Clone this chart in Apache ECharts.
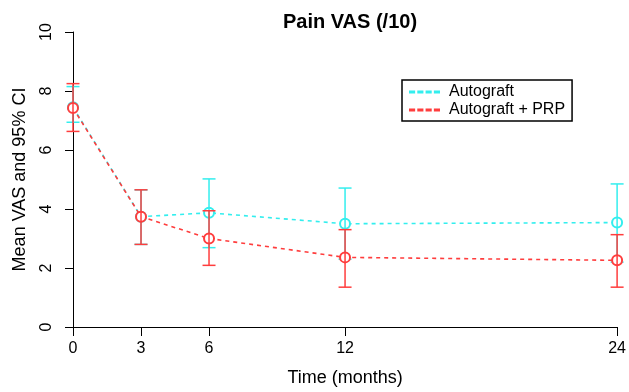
<!DOCTYPE html>
<html>
<head>
<meta charset="utf-8">
<script src="https://cdn.jsdelivr.net/npm/echarts@6/dist/echarts.min.js"></script>
<style>html,body{margin:0;padding:0;background:#fff}#c{width:629px;height:392px}</style>
</head>
<body>
<div id="c"></div>
<script>
var months = [0, 3, 6, 12, 24];
var xTicks = [0, 3, 6, 12, 24];
var yTicks = [0, 2, 4, 6, 8, 10];
var autoMean = [7.45, 3.74, 3.87, 3.5, 3.54];
var autoLow  = [6.94, 2.8, 2.69, 2.3, 2.2];
var autoHigh = [8.15, 4.65, 5.02, 4.71, 4.85];
var prpMean  = [7.42, 3.74, 3.0, 2.36, 2.26];
var prpLow   = [6.63, 2.8, 2.09, 1.35, 1.35];
var prpHigh  = [8.25, 4.65, 3.94, 3.3, 3.13];

var CYAN = '#33eeee', RED = '#ff3d3d';
var FONT = 'Liberation Sans, Arial, sans-serif';

function pairs(xs, ys) { return xs.map(function (x, i) { return [x, ys[i]]; }); }
function errData(low, high) { return months.map(function (m, i) { return [m, low[i], high[i]]; }); }

function errRender(color) {
  return function (params, api) {
    var x = api.value(0);
    var lo = api.coord([x, api.value(1)]);
    var hi = api.coord([x, api.value(2)]);
    var w = 6.5;
    var st = { stroke: color, lineWidth: 1.5 };
    return {
      type: 'group',
      children: [
        { type: 'line', shape: { x1: lo[0], y1: lo[1], x2: hi[0], y2: hi[1] }, style: st },
        { type: 'line', shape: { x1: lo[0] - w, y1: lo[1], x2: lo[0] + w, y2: lo[1] }, style: st },
        { type: 'line', shape: { x1: hi[0] - w, y1: hi[1], x2: hi[0] + w, y2: hi[1] }, style: st }
      ]
    };
  };
}

var dashIcon = 'path://M0,0h4v1h-4z M8,0h4v1h-4z M16,0h4v1h-4z M24,0h4v1h-4z';

var chart = echarts.init(document.getElementById('c'), null, { renderer: 'canvas' });
chart.setOption({
  animation: false,
  backgroundColor: '#fff',
  title: {
    text: 'Pain VAS (/10)',
    left: 345, top: 7, textAlign: 'center',
    textStyle: { fontFamily: FONT, fontWeight: 'bold', fontSize: 20, color: '#000' }
  },
  legend: {
    left: 402, top: 80,
    orient: 'vertical',
    borderColor: '#000', borderWidth: 1.5, borderRadius: 0,
    padding: [4, 7, 3, 7],
    itemGap: 2,
    itemWidth: 29, itemHeight: 1.5,
    textStyle: { fontFamily: FONT, fontSize: 16, color: '#000', padding: [0, 0, 0, 5] },
    data: [
      { name: 'Autograft', icon: dashIcon, itemStyle: { color: CYAN } },
      { name: 'Autograft + PRP', icon: dashIcon, itemStyle: { color: RED } }
    ]
  },
  grid: { left: 73, right: 11, top: 32, bottom: 62, containLabel: false },
  xAxis: {
    type: 'value', min: 0, max: 24,
    name: 'Time (months)', nameLocation: 'middle', nameGap: 42,
    nameTextStyle: { fontFamily: FONT, fontSize: 18, color: '#000' },
    axisLine: { lineStyle: { color: '#000', width: 1 } },
    axisTick: { length: 9, lineStyle: { color: '#000' }, customValues: xTicks },
    axisLabel: { fontFamily: FONT, fontSize: 16, color: '#000', margin: 14, customValues: xTicks },
    splitLine: { show: false }
  },
  yAxis: {
    type: 'value', min: 0, max: 10, interval: 2,
    name: 'Mean VAS and 95% CI', nameLocation: 'middle', nameGap: 44,
    nameTextStyle: { fontFamily: FONT, fontSize: 18, color: '#000' },
    axisLine: { show: true, lineStyle: { color: '#000', width: 1 } },
    axisTick: { show: true, length: 8, lineStyle: { color: '#000' }, customValues: yTicks },
    axisLabel: { fontFamily: FONT, fontSize: 16, color: '#000', margin: 18, rotate: 90, customValues: yTicks },
    splitLine: { show: false }
  },
  series: [
    {
      name: 'Autograft', type: 'line', data: pairs(months, autoMean),
      symbol: 'emptyCircle', symbolSize: 10, z: 2,
      lineStyle: { color: CYAN, width: 1.6, type: [4, 4] },
      itemStyle: { color: CYAN, borderColor: CYAN, borderWidth: 1.2 }
    },
    {
      name: 'Autograft err', type: 'custom', data: errData(autoLow, autoHigh),
      renderItem: errRender(CYAN), z: 3, silent: true
    },
    {
      name: 'Autograft + PRP', type: 'line', data: pairs(months, prpMean),
      symbol: 'emptyCircle', symbolSize: 10, z: 4,
      lineStyle: { color: RED, width: 1.6, type: [4, 4] },
      itemStyle: { color: RED, borderColor: RED, borderWidth: 1.2 }
    },
    {
      name: 'PRP err', type: 'custom', data: errData(prpLow, prpHigh),
      renderItem: errRender(RED), z: 5, silent: true
    }
  ]
});
</script>
</body>
</html>
